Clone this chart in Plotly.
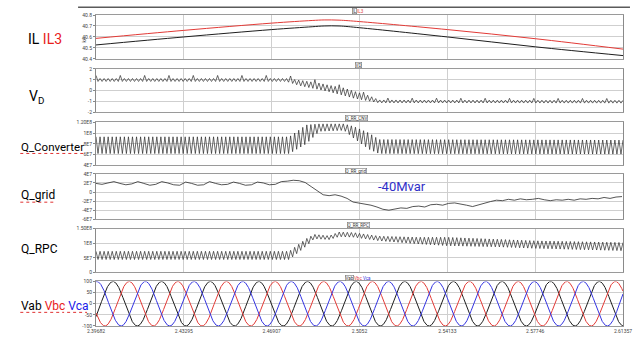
import numpy as np
import plotly.graph_objects as go

# ---------------- data ----------------
T_START = 2.39682
T_END = 2.61357
x_tick_vals = [2.39682, 2.43295, 2.46907, 2.50520, 2.54133, 2.57746, 2.61357]
x_tick_text = ["2.39682", "2.43295", "2.46907", "2.5052", "2.54133", "2.57746", "2.61357"]

# Panel 1: IL (black) and IL3 (red), kA
il_time = [2.39682, 2.43295, 2.46907, 2.48573, 2.49065, 2.49679, 2.50520, 2.54133, 2.57746, 2.61357]
il_values = [40.527, 40.600, 40.667, 40.693, 40.700, 40.700, 40.684, 40.600, 40.510, 40.430]
il3_values = [40.587, 40.660, 40.726, 40.750, 40.755, 40.753, 40.740, 40.667, 40.584, 40.489]

# Panel 2: VD ripple envelope
vd_time = [2.39682, 2.47508, 2.48041, 2.48860, 2.49270, 2.49887, 2.50294, 2.50909, 2.51319, 2.61357]
vd_upper = [1.12, 1.12, 0.97, 0.70, 0.50, 0.25, -0.05, -0.45, -0.85, -0.88]
vd_lower = [0.85, 0.85, 0.47, 0.10, -0.10, -0.45, -0.70, -0.95, -1.12, -1.14]
vd_spike = [1.40, 1.40, 1.25, 0.95, 0.75, 0.45, 0.15, -0.30, -0.68, -0.72]
vd_ripple_hz = 600
vd_spike_every = 6

# Panel 3: Q_Converter ripple envelope (units of 1E7)
qc_time = [2.39682, 2.47631, 2.48328, 2.48860, 2.49887, 2.50294, 2.50909, 2.51319, 2.61357]
qc_upper_e7 = [9.3, 9.3, 11.5, 11.7, 11.7, 11.2, 10.0, 8.8, 8.7]
qc_lower_e7 = [6.2, 6.2, 8.0, 10.3, 10.5, 9.0, 7.0, 6.2, 6.1]
qc_ripple_hz = 600

# Panel 4: Q_grid samples (units of 1E7), evenly spaced in time
q_grid_t_first = 2.39682
q_grid_t_last = 2.61316
q_grid_e7 = [1.9, 1.7, 2.0, 2.3, 1.9, 1.6, 1.8, 2.3, 1.9, 1.5,
             1.7, 2.3, 2.0, 1.6, 1.5, 2.2, 1.9, 1.5, 1.6, 2.3,
             1.9, 1.6, 1.7, 2.2, 1.9, 1.5, 1.6, 2.2, 2.0, 1.6,
             1.7, 2.3, 2.4, 2.6, 2.5, 2.1, 1.2, 0.2, -0.6, -0.8,
             -0.6, -0.9, -1.4, -2.2, -2.4, -2.6, -2.9, -3.3, -3.8, -4.0,
             -3.7, -3.5, -3.6, -3.2, -3.1, -3.3, -2.8, -2.7, -2.9, -2.5,
             -2.4, -2.6, -2.9, -3.2, -2.8, -2.4, -2.1, -1.8, -1.9, -1.6,
             -1.8, -1.5, -1.7, -1.6, -1.4, -1.7, -1.9, -1.7, -1.8, -1.6,
             -1.8, -1.5, -1.6, -1.4, -1.5, -1.2, -1.4, -1.1, -1.0]

# Panel 5: Q_RPC ripple envelope (units of 1E7)
qr_time = [2.39682, 2.47631, 2.48328, 2.48655, 2.49270, 2.49679, 2.50294, 2.51319,
           2.52958, 2.54146, 2.56236, 2.57752, 2.61357]
qr_upper_e7 = [7.2, 7.2, 11.5, 13.0, 12.5, 13.8, 13.6, 12.4, 12.0, 12.0, 11.3, 10.8, 10.2]
qr_lower_e7 = [4.4, 4.4, 9.0, 11.5, 11.2, 12.2, 12.0, 10.8, 9.7, 9.1, 8.7, 8.2, 7.4]
qr_ripple_hz = 600

# Panel 6: line voltages
v_amplitude = 100
v_frequency_hz = 50
vab_peak_time = 2.40379
v_phase_deg = {"Vab": 0, "Vbc": -120, "Vca": 120}

# y ticks
y1_vals = [40.8, 40.7, 40.6, 40.5, 40.4]
y1_text = ["40.8", "40.7", "40.6", "40.5", "40.4"]
y2_vals = [2, 1, 0, -1, -2]
y2_text = ["2", "1", "0", "-1", "-2"]
y3_vals = [1.2e8, 1e8, 8e7, 6e7, 4e7]
y3_text = ["1.20E8", "1E8", "8E7", "6E7", "4E7"]
y4_vals = [4e7, 2e7, 0, -2e7, -4e7, -6e7]
y4_text = ["4E7", "2E7", "0", "-2E7", "-4E7", "-6E7"]
y5_vals = [1.5e8, 1e8, 5e7, 0]
y5_text = ["1.50E8", "1E8", "5E7", "0"]
y6_vals = [100, 50, 0, -50, -100]
y6_text = ["100", "50", "0", "-50", "-100"]

# ---------------- build series ----------------
def ripple(t_knots, upper, lower, hz, spikes=None, every=0):
    n = int(round((T_END - T_START) * hz * 2))
    ts = np.linspace(T_START, T_END, n + 1)
    up = np.interp(ts, t_knots, upper)
    lo = np.interp(ts, t_knots, lower)
    k = np.arange(n + 1)
    ys = np.where(k % 2 == 0, up, lo)
    if spikes is not None:
        sp = np.interp(ts, t_knots, spikes)
        ys = np.where(k % (2 * every) == 0, sp, ys)
    return ts, ys

vd_t, vd_y = ripple(vd_time, vd_upper, vd_lower, vd_ripple_hz, vd_spike, vd_spike_every)
qc_t, qc_y = ripple(qc_time, qc_upper_e7, qc_lower_e7, qc_ripple_hz)
qc_y = qc_y * 1e7
qr_t, qr_y = ripple(qr_time, qr_upper_e7, qr_lower_e7, qr_ripple_hz)
qr_y = qr_y * 1e7
qg_t = np.linspace(q_grid_t_first, q_grid_t_last, len(q_grid_e7))
qg_y = np.array(q_grid_e7) * 1e7

v_t = np.linspace(T_START, T_END, 2500)
v_series = {}
for name, ph in v_phase_deg.items():
    v_series[name] = v_amplitude * np.cos(2 * np.pi * v_frequency_hz * (v_t - vab_peak_time) + np.deg2rad(ph))

# ---------------- figure ----------------
W, H = 641, 343
L, R, T, B = 96, 16, 15, 9
PW, PH = W - L - R, H - T - B

def px(xp):
    return (xp - L) / PW

def py(yp):
    return (H - B - yp) / PH

panels = [(15, 60), (70.3, 115), (125, 169.3), (178, 224.5), (234, 279), (288.3, 334)]
y_ranges = [[40.4, 40.8], [-2, 2], [4e7, 1.2e8], [-6e7, 4e7], [0, 1.5e8], [-100, 100]]
y_ticks = [(y1_vals, y1_text), (y2_vals, y2_text), (y3_vals, y3_text),
           (y4_vals, y4_text), (y5_vals, y5_text), (y6_vals, y6_text)]

fig = go.Figure()
BLACK = "#1e1e1e"
RED = "#e23a36"
BLUE = "#3434e0"

def add(x, y, i, color, shape="linear", width=1):
    sfx = "" if i == 1 else str(i)
    fig.add_trace(go.Scatter(x=x, y=y, mode="lines", line=dict(color=color, width=width, shape=shape),
                             xaxis="x" + sfx, yaxis="y" + sfx, showlegend=False, hoverinfo="skip"))

add(il_time, il3_values, 1, RED, "spline")
add(il_time, il_values, 1, BLACK, "spline")
add(vd_t, vd_y, 2, "#2a2a2a", width=0.7)
add(qc_t, qc_y, 3, "#2a2a2a", width=0.7)
add(qg_t, qg_y, 4, "#2a2a2a", width=0.8)
add(qr_t, qr_y, 5, "#2a2a2a", width=0.7)
add(v_t, v_series["Vab"], 6, BLACK)
add(v_t, v_series["Vbc"], 6, RED)
add(v_t, v_series["Vca"], 6, BLUE)

layout = dict(width=W, height=H, margin=dict(l=L, r=R, t=T, b=B),
              paper_bgcolor="white", plot_bgcolor="white", showlegend=False,
              font=dict(family="Roboto, Arial, sans-serif", color="#333"))
for i, (top, bot) in enumerate(panels, start=1):
    sfx = "" if i == 1 else str(i)
    layout["xaxis" + sfx] = dict(domain=[0, 1], anchor="y" + sfx, range=[T_START, T_END],
                                 tickvals=x_tick_vals, ticktext=x_tick_text,
                                 showticklabels=(i == 6), tickfont=dict(size=5, color="#444"),
                                 ticks="", showgrid=True, gridcolor="#cfcfcf", gridwidth=1,
                                 showline=True, mirror=True, linecolor="#9a9a9a", linewidth=1,
                                 zeroline=False, matches=None if i == 1 else "x")
    vals, text = y_ticks[i - 1]
    layout["yaxis" + sfx] = dict(domain=[py(bot), py(top)], anchor="x" + sfx, range=y_ranges[i - 1],
                                 tickvals=vals, ticktext=text, tickfont=dict(size=5, color="#444"),
                                 ticks="outside", ticklen=2, tickcolor="#888",
                                 showgrid=True, gridcolor="#cfcfcf", gridwidth=1,
                                 showline=True, mirror=True, linecolor="#8a8a8a", linewidth=1,
                                 zeroline=False)
fig.update_layout(**layout)

ann = []
def label(xp, yp, text, size=13, color="black", anchor="left"):
    ann.append(dict(x=px(xp), y=py(yp), xref="paper", yref="paper", text=text, showarrow=False,
                    xanchor=anchor, yanchor="middle", borderpad=0, font=dict(size=size, color=color,
                    family="Roboto, Arial, sans-serif")))

label(27, 40, 'IL <span style="color:#e8201c">IL3</span>', size=14)
label(28, 99, "V<sub>D</sub>", size=14)
label(20, 150, "Q_Converter", size=11.5)
label(20, 200, "Q_grid", size=12)
label(20, 255, "Q_RPC", size=12)
label(20, 313, 'Vab <span style="color:#e8201c">Vbc</span> <span style="color:#2020e8">Vca</span>', size=12)
label(378, 191, "-40Mvar", size=13, color="#3030c8")

def tag(xp, yp, text, color="#333", box=True):
    d = dict(x=px(xp), y=py(yp), xref="paper", yref="paper", text=text, showarrow=False,
             xanchor="center", yanchor="middle", font=dict(size=4.5, color=color), borderpad=0)
    if box:
        d.update(bordercolor="#777", borderwidth=0.6, bgcolor="white")
    ann.append(d)

tag(355, 11, "IL")
tag(362, 11, "IL3", RED, box=False)
tag(359, 66, "VD")
tag(357, 121, "Q_RR_CNV")
tag(357, 175, "Q_RR_grid")
tag(359, 230, "Q_RR_RPC")
tag(350, 285, "Vab")
tag(359, 285, "Vbc", RED, box=False)
tag(368, 285, "Vca", BLUE, box=False)
ann.append(dict(x=px(80), y=py(36), xref="paper", yref="paper", text="kA", showarrow=False,
                textangle=-90, font=dict(size=4.5, color="#444")))
fig.update_layout(annotations=ann)

shapes = [dict(type="line", xref="paper", yref="paper", x0=px(78), x1=px(632), y0=py(7), y1=py(7),
               line=dict(color="#5a5a5a", width=1.5))]
for x0, x1, yy in [(20, 86, 157), (20, 56, 207), (20, 41, 320), (44, 64, 320), (67, 87, 320)]:
    shapes.append(dict(type="line", xref="paper", yref="paper", x0=px(x0), x1=px(x1), y0=py(yy), y1=py(yy),
                       line=dict(color="#e03030", width=1, dash="dot")))
fig.update_layout(shapes=shapes)

fig.write_html("out.html", config={"displayModeBar": False},
               post_script="document.body.style.margin='0px';")
